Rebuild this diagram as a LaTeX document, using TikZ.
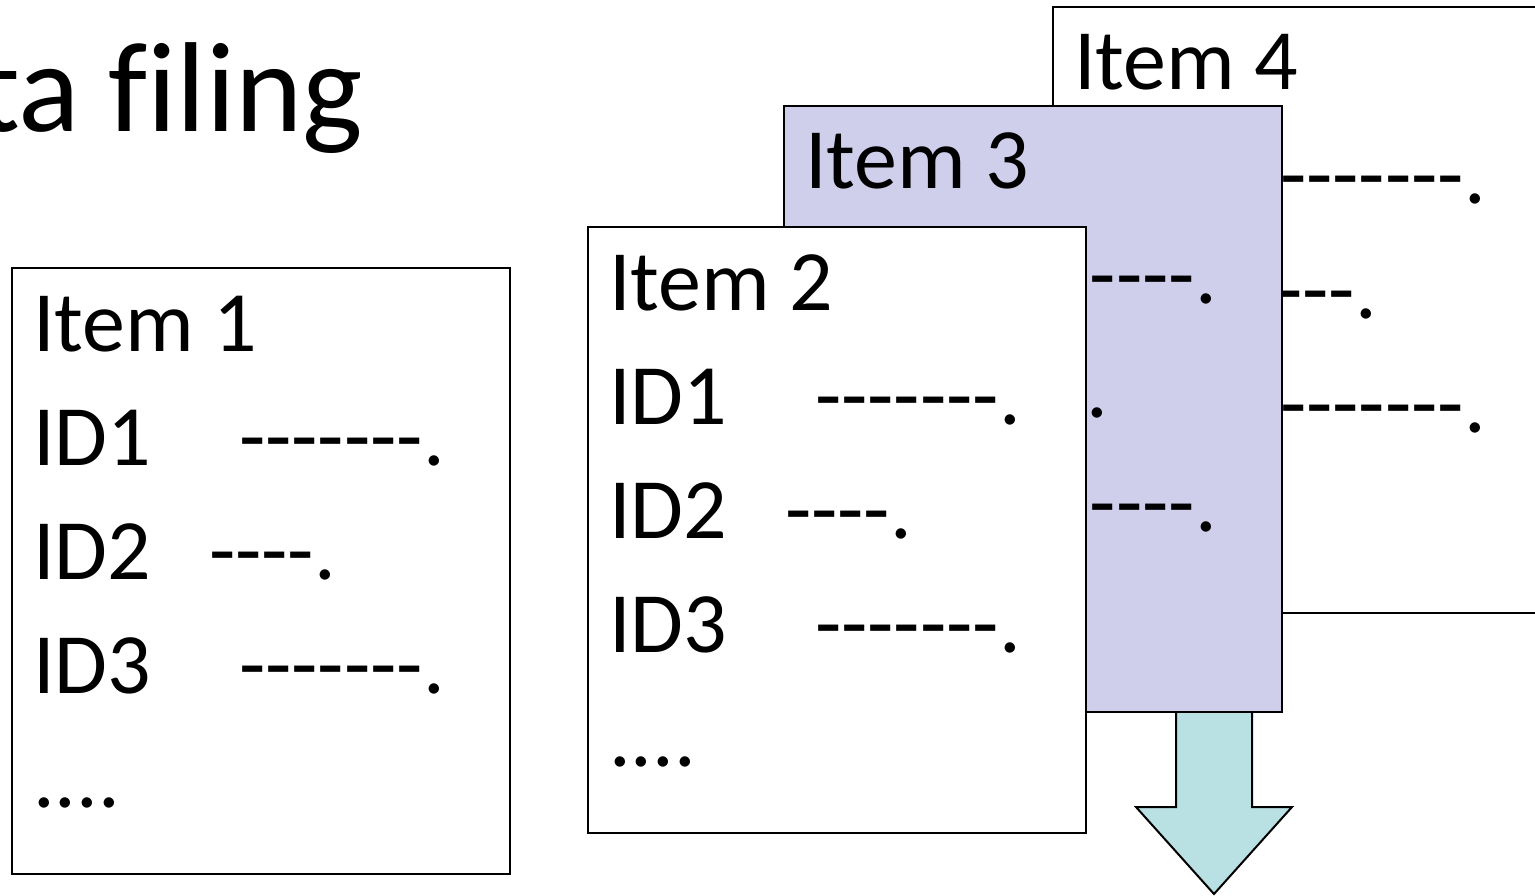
\documentclass[tikz,border=0pt]{standalone}
\usepackage{fontspec}
\setmainfont{Carlito}[Ligatures={NoCommon}]
\usetikzlibrary{calc}
\definecolor{lav}{RGB}{207,207,236}
\definecolor{aqua}{RGB}{185,224,227}
\tikzset{
  card/.style={draw=black, line width=2pt, minimum width=498pt, minimum height=606pt,
    anchor=north west, inner sep=0pt, outer sep=0pt},
  txt/.style={anchor=base west, inner sep=0pt, outer sep=0pt, font=\fontsize{86}{86}\selectfont},
  titletxt/.style={anchor=base west, inner sep=0pt, outer sep=0pt, font=\fontsize{128}{128}\selectfont},
  blockarrow/.style={draw=black, line width=2pt, fill=aqua, line join=miter}
}
\newcommand{\itemcard}[5]{%
  \node[card, fill=#4] (#1) at (#2,-#3) {};
  \node[txt] (#1-h)  at ($(#1.north west)+(21,-83)$)  {Item #5};
  \node[txt] (#1-i1) at ($(#1.north west)+(21,-197)$) {ID1};
  \node[txt] (#1-d1) at ($(#1.north west)+(227,-197)$) {-{}-{}-{}-{}-{}-{}-.};
  \node[txt] (#1-i2) at ($(#1.north west)+(21,-311)$) {ID2};
  \node[txt] (#1-d2) at ($(#1.north west)+(197,-311)$) {-{}-{}-{}-.};
  \node[txt] (#1-i3) at ($(#1.north west)+(21,-425)$) {ID3};
  \node[txt] (#1-d3) at ($(#1.north west)+(227,-425)$) {-{}-{}-{}-{}-{}-{}-.};
  \node[txt] (#1-e)  at ($(#1.north west)+(21,-539)$) {....};
}
\begin{document}
\begin{tikzpicture}[x=1pt,y=1pt]
  \useasboundingbox (0,0) rectangle (1535,-896);
  \node[titletxt] (title) at (-23,-132) {ta f\kern0pt iling};
  \itemcard{b4}{1053}{7}{white}{4}
  \coordinate (ar) at (1214,-711);
  \draw[blockarrow] ($(ar)+(-38,10)$) -- ($(ar)+(-38,-96)$) -- ($(ar)+(-78,-96)$)
     -- ($(ar)+(0,-183)$) -- ($(ar)+(78,-96)$) -- ($(ar)+(38,-96)$) -- ($(ar)+(38,10)$) -- cycle;
  \itemcard{b3}{784}{106}{lav}{3}
  \itemcard{b2}{588}{227}{white}{2}
  \itemcard{b1}{12}{268}{white}{1}
\end{tikzpicture}
\end{document}
